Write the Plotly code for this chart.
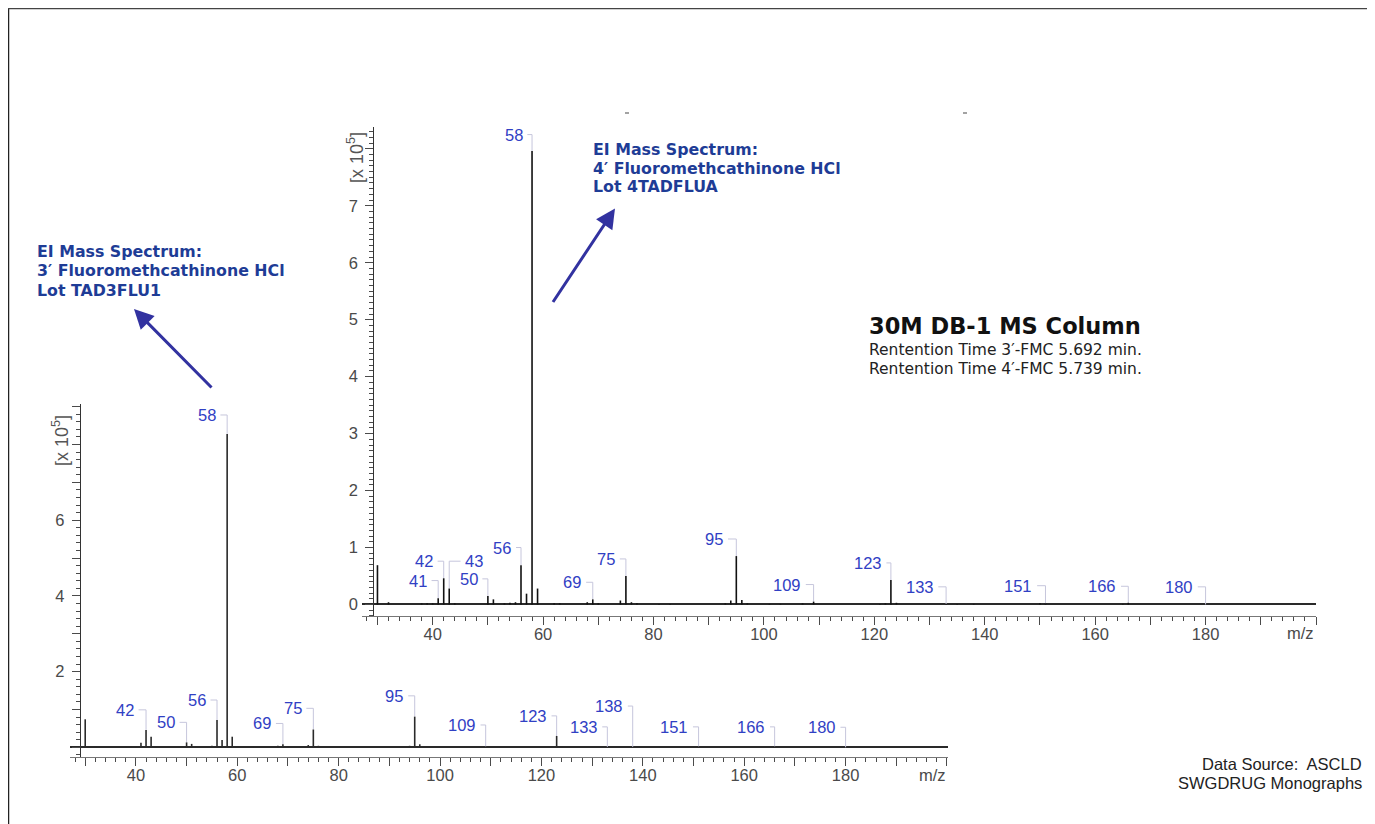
import plotly.graph_objects as go

# ---------------- data ----------------
# 3'-Fluoromethcathinone HCl (lower spectrum), intensity in units of 1e5
mz_3fmc = [30, 32, 38, 39, 40, 41, 42, 43, 44, 50, 51, 52, 54, 55, 56, 57, 58, 59,
           60, 63, 68, 69, 70, 74, 75, 76, 94, 95, 96, 109, 123, 124, 133, 138, 151, 166]
int_3fmc = [0.74, 0.03, 0.02, 0.03, 0.02, 0.12, 0.46, 0.28, 0.02, 0.13, 0.09, 0.02, 0.02,
            0.04, 0.72, 0.19, 8.28, 0.28, 0.02, 0.02, 0.04, 0.08, 0.02, 0.06, 0.47, 0.04,
            0.04, 0.81, 0.08, 0.02, 0.30, 0.03, 0.01, 0.01, 0.02, 0.02]
labels_3fmc = [42, 50, 56, 58, 69, 75, 95, 109, 123, 133, 138, 151, 166, 180]

# 4'-Fluoromethcathinone HCl (upper spectrum), intensity in units of 1e5
mz_4fmc = [30, 32, 38, 39, 40, 41, 42, 43, 44, 50, 51, 53, 54, 55, 56, 57, 58, 59, 62, 63,
           68, 69, 70, 74, 75, 76, 77, 81, 83, 93, 94, 95, 96, 97, 101, 103, 107, 109,
           121, 122, 123, 124, 133, 135, 138, 150, 151, 165, 166]
int_4fmc = [0.69, 0.04, 0.02, 0.02, 0.02, 0.11, 0.46, 0.28, 0.02, 0.15, 0.09, 0.02, 0.03,
            0.04, 0.69, 0.19, 7.96, 0.28, 0.02, 0.02, 0.04, 0.09, 0.02, 0.07, 0.50, 0.04,
            0.02, 0.01, 0.01, 0.02, 0.07, 0.85, 0.08, 0.02, 0.01, 0.01, 0.02, 0.05,
            0.01, 0.02, 0.43, 0.03, 0.01, 0.01, 0.01, 0.02, 0.02, 0.01, 0.03]
labels_4fmc = [41, 42, 43, 50, 56, 58, 69, 75, 95, 109, 123, 133, 151, 166, 180]

x_major_ticks = list(range(30, 201, 10))
x_tick_labels = [str(v) if (v % 20 == 0 and 40 <= v <= 180) else "" for v in x_major_ticks]
y_ticks_3fmc = list(range(0, 10))
y_labels_3fmc = [str(v) if v in (2, 4, 6) else "" for v in y_ticks_3fmc]
y_ticks_4fmc = list(range(0, 9))
y_labels_4fmc = [str(v) if v <= 7 else "" for v in y_ticks_4fmc]

# ---------------- layout helpers (label placement, not data) ----------------
label_pos_3fmc = {42: (37.8, 0.99), 50: (45.9, 0.66), 56: (52.0, 1.25), 58: (53.95, 8.78),
                  69: (64.9, 0.63), 75: (70.9, 1.03), 95: (91.0, 1.36), 109: (104.3, 0.59),
                  123: (118.3, 0.83), 133: (128.3, 0.54), 138: (133.35, 1.09),
                  151: (146.2, 0.54), 166: (161.4, 0.54), 180: (175.3, 0.53)}
label_pos_4fmc = {41: (37.3, 0.42), 42: (38.4, 0.76), 43: (47.55, 0.76), 50: (46.5, 0.45),
                  56: (52.6, 1.0), 58: (54.65, 8.25), 69: (65.3, 0.39), 75: (71.4, 0.80),
                  95: (91.0, 1.15), 109: (104.2, 0.35), 123: (118.8, 0.73),
                  133: (128.2, 0.31), 151: (146.1, 0.33), 166: (161.3, 0.32),
                  180: (175.2, 0.31)}

# the page body adds an 8 px margin; figure fills the rest of the 1375x824 window
OFF = 8
W, H = 1375 - OFF, 824 - OFF
def fx(px):
    return (px - OFF) / W
def fy(py):
    return 1 - (py - OFF) / H

# axis geometry (window pixels)
B_X0, B_X1, B_Y0, B_Y1 = 70, 948, 757, 404     # lower chart
T_X0, T_X1, T_Y0, T_Y1 = 362, 1316, 616, 127   # upper chart
B_XR = [27.0, 200.2]; B_YR = [-0.256, 9.07]
T_XR = [27.2, 200.0]; T_YR = [-0.202, 8.383]

PEAK_LBL = "#3040c4"
LEADER = "#c6c6dc"
TICKC = "#4a4a4a"
FONT = "Liberation Sans, Arial, sans-serif"

fig = go.Figure()

def add_spectrum(mz, inten, labels, pos, xa, ya, xr, px0, px1, color, width):
    lookup = dict(zip(mz, inten))
    ppu = (px1 - px0) / (xr[1] - xr[0])
    lx, ly = [], []
    for m in labels:
        x, y = pos[m]
        off = (len(str(m)) * 4.9 + 4) / ppu
        x0 = x + off if x < m else x - off
        lx += [x0, m, m, None]
        ly += [y, y, lookup.get(m, 0.0), None]
    fig.add_trace(go.Scatter(x=lx, y=ly, mode="lines", xaxis=xa, yaxis=ya,
                             line=dict(color=LEADER, width=1), hoverinfo="skip"))
    px_, py_ = [], []
    for m, v in zip(mz, inten):
        px_ += [m, m, None]
        py_ += [0, v, None]
    fig.add_trace(go.Scatter(x=px_, y=py_, mode="lines", xaxis=xa, yaxis=ya,
                             line=dict(color=color, width=width), hoverinfo="skip"))
    xref = "x" if xa == "x" else "x2"
    yref = "y" if ya == "y" else "y2"
    for m in labels:
        x, y = pos[m]
        fig.add_annotation(x=x, y=y, xref=xref, yref=yref, text=str(m), showarrow=False,
                           xanchor="center", yanchor="middle",
                           font=dict(family=FONT, size=16.5, color=PEAK_LBL))

add_spectrum(mz_3fmc, int_3fmc, labels_3fmc, label_pos_3fmc, "x", "y", B_XR, B_X0, B_X1, "#2a2a2a", 1.6)
add_spectrum(mz_4fmc, int_4fmc, labels_4fmc, label_pos_4fmc, "x2", "y2", T_XR, T_X0, T_X1, "#111111", 1.6)

def xaxis_cfg(domain, anchor, rng):
    return dict(domain=domain, anchor=anchor, range=rng, tickmode="array",
                tickvals=x_major_ticks, ticktext=x_tick_labels, ticks="outside",
                ticklen=8, tickwidth=1.3, tickcolor=TICKC, showline=True, linecolor="#777",
                linewidth=1, showgrid=False, zeroline=False, ticklabelstandoff=-5,
                tickfont=dict(family=FONT, size=16.5, color=TICKC),
                minor=dict(tickmode="linear", tick0=0, dtick=2, ticks="outside", ticklen=4,
                           tickcolor=TICKC, tickwidth=1, showgrid=False))

def yaxis_cfg(domain, pos, rng, tv, tt, mdt):
    return dict(domain=domain, anchor="free", position=pos, range=rng, tickmode="array",
                tickvals=tv, ticktext=tt, ticks="outside", ticklen=8, tickwidth=1.3,
                tickcolor=TICKC, showline=True, linecolor="#333", linewidth=1.3,
                showgrid=False, zeroline=True, zerolinecolor="#2a2a2a", zerolinewidth=2,
                ticklabelstandoff=4,
                tickfont=dict(family=FONT, size=16.5, color=TICKC),
                minor=dict(tickmode="linear", tick0=0, dtick=mdt, ticks="outside", ticklen=4,
                           tickcolor=TICKC, tickwidth=1, showgrid=False))

fig.update_layout(
    width=W, height=H, autosize=False, margin=dict(l=0, r=0, t=0, b=0),
    paper_bgcolor="white", plot_bgcolor="rgba(0,0,0,0)", showlegend=False, hovermode=False,
    xaxis=xaxis_cfg([fx(B_X0), fx(B_X1)], "y", B_XR),
    yaxis=yaxis_cfg([fy(B_Y0), fy(B_Y1)], fx(80), B_YR, y_ticks_3fmc, y_labels_3fmc, 0.2),
    xaxis2=xaxis_cfg([fx(T_X0), fx(T_X1)], "y2", T_XR),
    yaxis2=yaxis_cfg([fy(T_Y0), fy(T_Y1)], fx(373.3), T_YR, y_ticks_4fmc, y_labels_4fmc, 0.1),
)

# axis unit labels
for (x, y) in [(932, 775), (1300, 633)]:
    fig.add_annotation(x=fx(x), y=fy(y), xref="paper", yref="paper", text="m/z",
                       showarrow=False, xanchor="center", yanchor="middle",
                       font=dict(family=FONT, size=16.5, color=TICKC))
for (x, y) in [(60, 441), (355, 158)]:
    fig.add_annotation(x=fx(x), y=fy(y), xref="paper", yref="paper",
                       text="[x 10<sup>5</sup>]", textangle=-90, showarrow=False,
                       xanchor="center", yanchor="middle",
                       font=dict(family=FONT, size=18, color="#555"))

# title blocks
TITLE_BLUE = "#1e3c96"
TFONT = "DejaVu Sans, Verdana, sans-serif"
left_lines = ["EI Mass Spectrum:", "3′ Fluoromethcathinone HCl", "Lot TAD3FLU1"]
right_lines = ["EI Mass Spectrum:", "4′ Fluoromethcathinone HCl", "Lot 4TADFLUA"]
for i, t in enumerate(left_lines):
    fig.add_annotation(x=fx(35), y=fy(251.5 + 19.3 * i), xref="paper", yref="paper",
                       text="<b>" + t + "</b>", showarrow=False, xanchor="left",
                       yanchor="middle", font=dict(family=TFONT, size=15.8, color=TITLE_BLUE))
for i, t in enumerate(right_lines):
    fig.add_annotation(x=fx(590.7), y=fy(149.3 + 18.8 * i), xref="paper", yref="paper",
                       text="<b>" + t + "</b>", showarrow=False, xanchor="left",
                       yanchor="middle", font=dict(family=TFONT, size=15.8, color=TITLE_BLUE))

fig.add_annotation(x=fx(867), y=fy(326.3), xref="paper", yref="paper",
                   text="<b>30M DB-1 MS Column</b>", showarrow=False, xanchor="left",
                   yanchor="middle", font=dict(family=TFONT, size=22.5, color="#111"))
for i, t in enumerate(["Rentention Time 3′-FMC 5.692 min.", "Rentention Time 4′-FMC 5.739 min."]):
    fig.add_annotation(x=fx(867), y=fy(350 + 18.7 * i), xref="paper", yref="paper",
                       text=t, showarrow=False, xanchor="left", yanchor="middle",
                       font=dict(family=TFONT, size=15.5, color="#222"))
for i, t in enumerate(["Data Source:  ASCLD", "SWGDRUG Monographs"]):
    fig.add_annotation(x=fx(1364), y=fy(764.3 + 19 * i), xref="paper", yref="paper",
                       text=t, showarrow=False, xanchor="right", yanchor="middle",
                       font=dict(family=FONT, size=16.5, color="#222"))

# arrows
ARROW = "#3232a0"
fig.add_annotation(x=fx(134), y=fy(309), xref="paper", yref="paper", text="",
                   showarrow=True, ax=79, ay=80, axref="pixel", ayref="pixel",
                   arrowhead=2, arrowsize=1.3, arrowwidth=3, arrowcolor=ARROW)
fig.add_annotation(x=fx(615), y=fy(208.5), xref="paper", yref="paper", text="",
                   showarrow=True, ax=-63, ay=95, axref="pixel", ayref="pixel",
                   arrowhead=2, arrowsize=1.3, arrowwidth=3, arrowcolor=ARROW)

# page frame and cropped title remnants
fig.add_shape(type="line", xref="paper", yref="paper", x0=0, x1=0, y0=0, y1=1,
              line=dict(color="#222", width=2.5))
fig.add_shape(type="line", xref="paper", yref="paper", x0=0, x1=1, y0=1, y1=1,
              line=dict(color="#444", width=2.5))
for x in (627, 965):
    fig.add_shape(type="line", xref="paper", yref="paper", x0=fx(x - 2), x1=fx(x + 2),
                  y0=fy(113), y1=fy(113), line=dict(color="#666", width=1.2))

fig.write_html("out.html", config={"displayModeBar": False},
               post_script="document.documentElement.style.overflow='hidden';"
                           "document.body.style.overflow='hidden';")
